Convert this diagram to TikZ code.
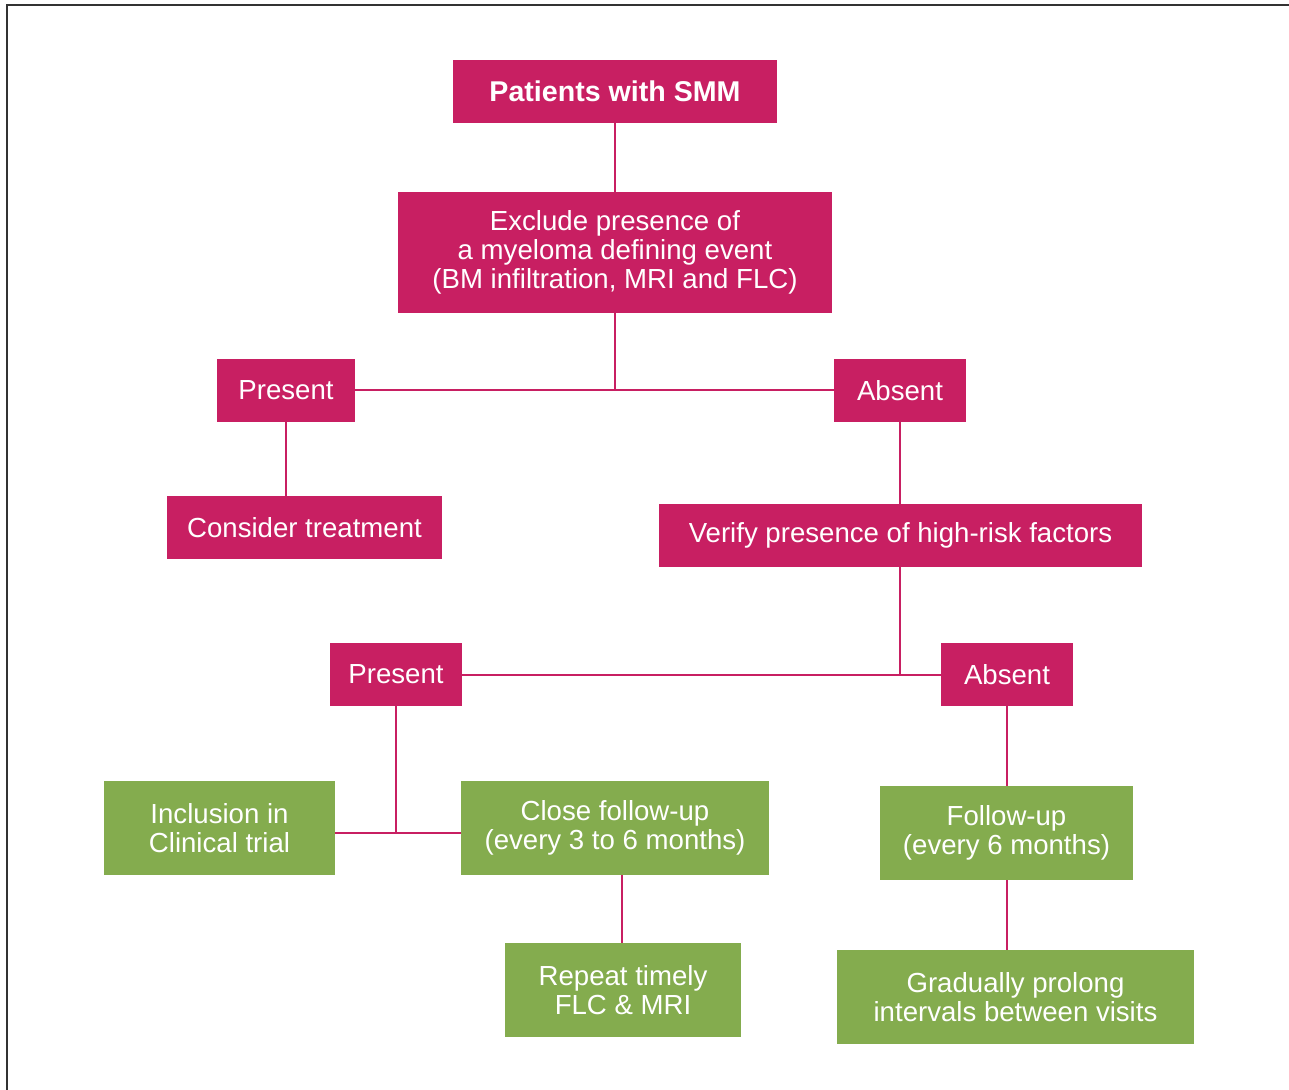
\documentclass[tikz,border=0pt]{standalone}
\usepackage{fontspec}
\setmainfont{Liberation Sans}
\usetikzlibrary{positioning, calc}

\definecolor{smmpink}{HTML}{C81F62}
\definecolor{smmgreen}{HTML}{84AC4E}

\begin{document}
\begin{tikzpicture}[
    x=0.5pt, y=-0.5pt,
    every node/.style={inner sep=0pt, align=center, text=white,
      font=\fontsize{13.8}{14.5}\selectfont},
    pinkbox/.style={fill=smmpink, minimum height=31.5pt},
    greenbox/.style={fill=smmgreen, minimum height=47pt},
    link/.style={draw=smmpink, line width=1pt}
  ]
  \useasboundingbox (0,0) rectangle (1289,1090);
  \draw[black!80, line width=1pt] (1289,5) -- (7,5) -- (7,1090);

  % Ebene 1
  \node[pinkbox, minimum width=162pt, font=\fontsize{14.3}{14.5}\selectfont\bfseries]
    (smm) at (615,91.5) {Patients with SMM};
  \node[pinkbox, minimum width=217pt, minimum height=60.5pt]
    (excl) at (615,252.5) {Exclude presence of\\a myeloma defining event\\(BM infiltration, MRI and FLC)};

  % Ebene 2
  \node[pinkbox, minimum width=69pt] (pres1) at (286,390.5) {Present};
  \node[pinkbox, minimum width=66pt] (abs1) at (900,390.5) {Absent};
  \node[pinkbox, minimum width=137.5pt] (treat) at (304.5,527.5) {Consider treatment};
  \node[pinkbox, minimum width=241.5pt] (verify) at (900.5,535.5) {Verify presence of high-risk factors};

  % Ebene 3
  \node[pinkbox, minimum width=66pt] (pres2) at (396,674.5) {Present};
  \node[pinkbox, minimum width=66pt] (abs2) at (1007,674.5) {Absent};

  % Ebene 4
  \node[greenbox, minimum width=115.5pt] (incl) at (219.5,828) {Inclusion in\\Clinical trial};
  \node[greenbox, minimum width=154pt] (close) at (615,828) {Close follow-up\\(every 3 to 6 months)};
  \node[greenbox, minimum width=126.5pt] (follow) at (1006.5,833) {Follow-up\\(every 6 months)};
  \node[greenbox, minimum width=118pt] (repeat) at (623,990) {Repeat timely\\FLC \& MRI};
  \node[greenbox, minimum width=178.5pt] (prolong) at (1015.5,997) {Gradually prolong\\intervals between visits};

  \coordinate (trial) at (396,833);

  \draw[link] (smm) -- (excl);
  \draw[link] (excl) -- (excl |- pres1);
  \draw[link] (pres1) -- (abs1);
  \draw[link] (pres1) -- (pres1 |- treat.north);
  \draw[link] (abs1) -- (abs1 |- verify.north);
  \draw[link] (verify.south -| abs1) -- (abs1 |- pres2);
  \draw[link] (pres2) -- (abs2);
  \draw[link] (pres2) -- (trial);
  \draw[link] (incl.east |- trial) -- (close.west |- trial);
  \draw[link] ($(close.south)+(7,0)$) -- ($(repeat.north)+(-1,0)$);
  \draw[link] (abs2) -- (abs2 |- follow.north);
  \draw[link] (follow.south -| abs2) -- (prolong.north -| abs2);
\end{tikzpicture}
\end{document}
